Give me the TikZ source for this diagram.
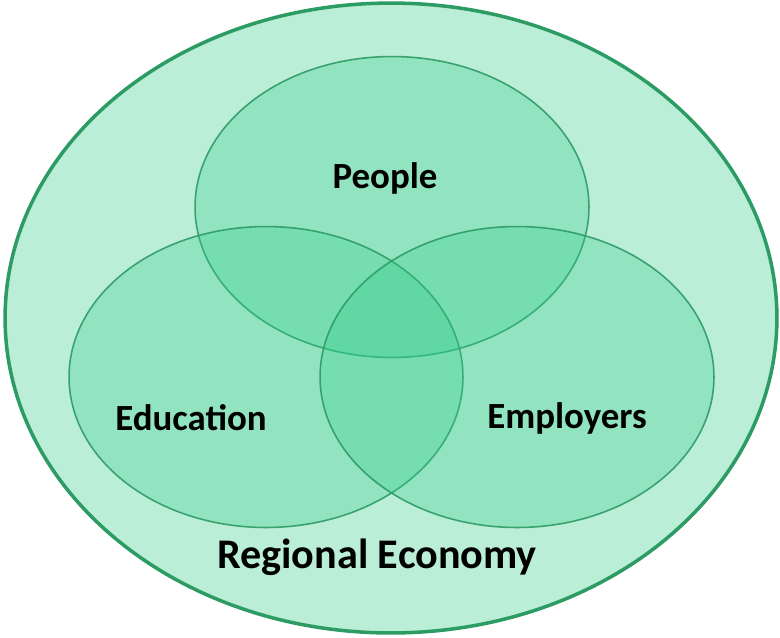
\documentclass[tikz,border=0pt]{standalone}
\usepackage{fontspec}
\setmainfont{Carlito}
\usetikzlibrary{shapes.geometric}

\definecolor{mintbg}{RGB}{186,238,214}
\definecolor{vennfill}{RGB}{53,205,141}
\definecolor{vennline}{RGB}{45,155,100}

\tikzset{
	setring/.style={ellipse, draw=vennline, line width=0.9pt, fill=vennfill, fill opacity=0.3, draw opacity=0.9, minimum width=7.88cm, minimum height=6.02cm, inner sep=0pt},
	setlabel/.style={font=\bfseries\fontsize{21}{24}\selectfont, text=black}
}

\begin{document}
\begin{tikzpicture}[x=0.02cm, y=-0.02cm]
\useasboundingbox (0,0) rectangle (780,637);

\node[ellipse, draw=vennline, line width=2pt, fill=mintbg, minimum width=15.44cm, minimum height=12.6cm, inner sep=0pt] (economy) at (391,318) {};

\node[setring] (people) at (392,207) {};
\node[setring] (education) at (266,377) {};
\node[setring] (employers) at (517,377) {};

\node[setlabel] (peoplelbl) at (385,178) {People};
\node[setlabel] (educationlbl) at (191,418) {Education};
\node[setlabel] (employerslbl) at (567,418) {Employers};
\node[setlabel, font=\bfseries\fontsize{24}{28}\selectfont] (economylbl) at (377,557) {Regional Economy};
\end{tikzpicture}
\end{document}
